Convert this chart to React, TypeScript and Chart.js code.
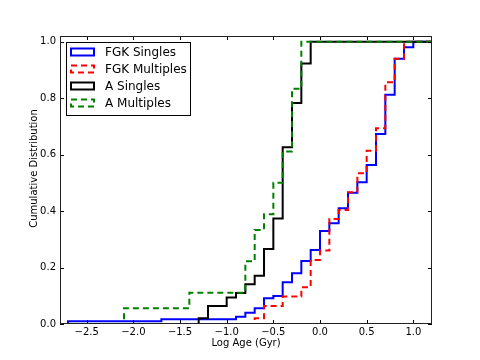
import React, { useEffect, useRef } from 'react';
import { Chart, registerables } from 'chart.js';

Chart.register(...registerables);

// ---- axis settings ----
const X_MIN = -2.786;
const X_MAX = 1.2;
const Y_MIN = 0;
const Y_MAX = 1.02;
const xTickValues = [-2.5, -2.0, -1.5, -1.0, -0.5, 0.0, 0.5, 1.0];
const yTickValues = [0.0, 0.2, 0.4, 0.6, 0.8, 1.0];
const xTitle = 'Log Age (Gyr)';
const yTitle = 'Cumulative Distribution';

// ---- series (bin edge where the step occurs, cumulative value after it) ----
const seriesLabels = ['FGK Singles', 'FGK Multiples', 'A Singles', 'A Multiples'];

const fgkSinglesEdges = [-2.8, -2.7, -1.7, -0.9, -0.8, -0.7, -0.6, -0.5, -0.4, -0.3, -0.2, -0.1, 0.0, 0.1, 0.2, 0.3, 0.4, 0.5, 0.6, 0.7, 0.8, 0.9, 1.0, 1.3];
const fgkSinglesCdf = [0, 0.01, 0.017, 0.026, 0.04, 0.056, 0.091, 0.099, 0.148, 0.18, 0.223, 0.262, 0.329, 0.357, 0.41, 0.465, 0.502, 0.563, 0.673, 0.812, 0.939, 0.98, 1.0, 1.0];

const fgkMultiplesEdges = [-2.8, -0.7, -0.6, -0.4, -0.2, -0.1, 0.0, 0.1, 0.2, 0.3, 0.4, 0.5, 0.6, 0.7, 0.8, 0.9, 1.3];
const fgkMultiplesCdf = [0, 0.02, 0.064, 0.097, 0.13, 0.227, 0.26, 0.372, 0.404, 0.467, 0.534, 0.614, 0.693, 0.856, 0.939, 1.0, 1.0];

const aSinglesEdges = [-2.8, -1.3, -1.2, -1.0, -0.9, -0.8, -0.7, -0.6, -0.5, -0.4, -0.3, -0.2, -0.1, 1.3];
const aSinglesCdf = [0, 0.02, 0.064, 0.094, 0.11, 0.141, 0.171, 0.266, 0.374, 0.626, 0.783, 0.923, 1.0, 1.0];

const aMultiplesEdges = [-2.8, -2.1, -1.4, -0.8, -0.7, -0.6, -0.5, -0.4, -0.3, -0.2, 1.3];
const aMultiplesCdf = [0, 0.056, 0.111, 0.222, 0.333, 0.389, 0.5, 0.611, 0.833, 1.0, 1.0];

const FONT = 'DejaVu Sans';

const fmt = (v: number) => (v < 0 ? '\u2212' : '') + Math.abs(v).toFixed(1);

const toPoints = (xs: number[], ys: number[]) => xs.map((x, i) => ({ x, y: ys[i] }));

const decorPlugin = {
  id: 'mplDecor',
  afterDatasetsDraw(chart: any) {
    const { ctx, chartArea, scales } = chart;
    const { left, right, top, bottom } = chartArea;
    const xs = scales.x;
    const ys = scales.y;
    ctx.save();
    ctx.strokeStyle = '#000';
    ctx.lineWidth = 1;
    ctx.setLineDash([]);
    // inward tick marks on all four sides
    ctx.beginPath();
    const tl = 4;
    xTickValues.forEach((v) => {
      const px = Math.round(xs.getPixelForValue(v)) + 0.5;
      ctx.moveTo(px, bottom);
      ctx.lineTo(px, bottom - tl);
      ctx.moveTo(px, top);
      ctx.lineTo(px, top + tl);
    });
    yTickValues.forEach((v) => {
      const py = Math.round(ys.getPixelForValue(v)) + 0.5;
      ctx.moveTo(left, py);
      ctx.lineTo(left + tl, py);
      ctx.moveTo(right, py);
      ctx.lineTo(right - tl, py);
    });
    ctx.stroke();
    // frame
    ctx.strokeStyle = '#222';
    ctx.strokeRect(left + 0.5, top + 0.5, right - left - 1, bottom - top - 1);

    // legend
    const lx = left + 6;
    const ly = top + 6;
    const lw = 124;
    const lh = 73;
    ctx.fillStyle = '#fff';
    ctx.fillRect(lx, ly, lw, lh);
    ctx.strokeStyle = '#000';
    ctx.lineWidth = 1;
    ctx.strokeRect(lx + 0.5, ly + 0.5, lw, lh);
    ctx.font = `12px "${FONT}"`;
    ctx.textBaseline = 'middle';
    ctx.textAlign = 'left';
    chart.data.datasets.forEach((ds: any, i: number) => {
      const cy = ly + 10 + i * 17;
      ctx.save();
      ctx.strokeStyle = ds.borderColor;
      ctx.lineWidth = 2;
      ctx.setLineDash(ds.borderDash || []);
      ctx.strokeRect(lx + 5, cy - 3.5, 23, 7);
      ctx.restore();
      ctx.fillStyle = '#000';
      ctx.fillText(ds.label, lx + 39, cy + 0.5);
    });

    // y axis title
    ctx.save();
    ctx.translate(34, 168.5);
    ctx.rotate(-Math.PI / 2);
    ctx.font = `10px "${FONT}"`;
    ctx.fillStyle = '#000';
    ctx.textAlign = 'center';
    ctx.textBaseline = 'middle';
    ctx.fillText(yTitle, 0, 0);
    ctx.restore();

    ctx.restore();
  },
};

export default function App() {
  const ref = useRef<HTMLCanvasElement>(null);

  useEffect(() => {
    const canvas = ref.current;
    if (!canvas) return;
    const tickFont = { family: FONT, size: 10 };
    const chart = new Chart(canvas, {
      type: 'line',
      data: {
        datasets: [
          {
            label: seriesLabels[0],
            data: toPoints(fgkSinglesEdges, fgkSinglesCdf),
            borderColor: '#0000ff',
            borderWidth: 2,
            stepped: true,
            order: 4,
          },
          {
            label: seriesLabels[1],
            data: toPoints(fgkMultiplesEdges, fgkMultiplesCdf),
            borderColor: '#ff0000',
            borderWidth: 2,
            borderDash: [6, 4],
            stepped: true,
            order: 3,
          },
          {
            label: seriesLabels[2],
            data: toPoints(aSinglesEdges, aSinglesCdf),
            borderColor: '#000000',
            borderWidth: 2,
            stepped: true,
            order: 2,
          },
          {
            label: seriesLabels[3],
            data: toPoints(aMultiplesEdges, aMultiplesCdf),
            borderColor: '#008000',
            borderWidth: 2,
            borderDash: [6, 4],
            stepped: true,
            order: 1,
          },
        ],
      } as any,
      options: {
        animation: false,
        responsive: false,
        devicePixelRatio: 1,
        layout: { padding: { left: 0, right: 48, top: 36, bottom: 0 } },
        elements: { point: { radius: 0 }, line: { tension: 0, fill: false } },
        plugins: { legend: { display: false }, tooltip: { enabled: false } },
        scales: {
          x: {
            type: 'linear',
            min: X_MIN,
            max: X_MAX,
            afterFit: (s: any) => {
              s.height = 36;
            },
            afterBuildTicks: (s: any) => {
              s.ticks = xTickValues.map((v) => ({ value: v }));
            },
            grid: { display: false, drawTicks: false },
            border: { display: false },
            ticks: {
              padding: 2,
              color: '#000',
              font: tickFont,
              autoSkip: false,
              maxRotation: 0,
              callback: (v: any) => fmt(Number(v)),
            },
            title: {
              display: true,
              text: xTitle,
              color: '#000',
              font: tickFont,
              padding: { top: 0, bottom: 11 },
            },
          },
          y: {
            type: 'linear',
            min: Y_MIN,
            max: Y_MAX,
            afterFit: (s: any) => {
              s.width = 60;
            },
            afterBuildTicks: (s: any) => {
              s.ticks = yTickValues.map((v) => ({ value: v }));
            },
            grid: { display: false, drawTicks: false },
            border: { display: false },
            ticks: {
              padding: 4,
              color: '#000',
              font: tickFont,
              autoSkip: false,
              callback: (v: any) => fmt(Number(v)),
            },
          },
        },
      } as any,
      plugins: [decorPlugin],
    });
    return () => chart.destroy();
  }, []);

  return (
    <div style={{ position: 'absolute', left: 0, top: 0, width: 480, height: 360 }}>
      <canvas ref={ref} width={480} height={360} style={{ display: 'block', width: 480, height: 360 }} />
    </div>
  );
}
